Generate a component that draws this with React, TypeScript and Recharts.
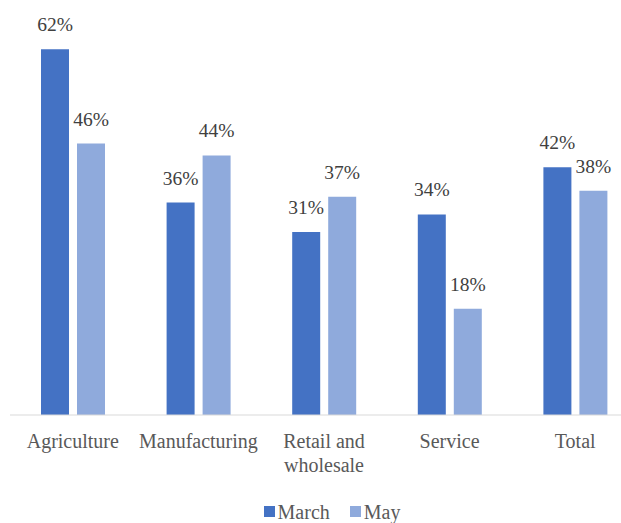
import React from 'react';
import { BarChart, Bar, XAxis, YAxis, Legend, LabelList } from 'recharts';

const categories = ['Agriculture', 'Manufacturing', 'Retail and\nwholesale', 'Service', 'Total'];
const march = [62, 36, 31, 34, 42];
const may = [46, 44, 37, 18, 38];

const MARCH_COLOR = '#4472C4';
const MAY_COLOR = '#8FAADC';
const FONT = '"Liberation Serif", "Times New Roman", serif';

const data = categories.map((name, i) => ({ name, march: march[i], may: may[i] }));

// multi-line category label
const CategoryTick = ({ x, y, payload }: any) => {
  const lines = String(payload.value).split('\n');
  return (
    <text x={x} y={y} textAnchor="middle" fill="#595959" style={{ fontFamily: FONT, fontSize: 20 }}>
      {lines.map((line, i) => (
        <tspan key={i} x={x} dy={i === 0 ? 25 : 24}>
          {line}
        </tspan>
      ))}
    </text>
  );
};

const LegendContent = () => (
  <div
    style={{
      display: 'flex',
      justifyContent: 'center',
      alignItems: 'center',
      gap: 20,
      height: 25,
      boxSizing: 'border-box',
      fontFamily: FONT,
      fontSize: 20,
      lineHeight: '22px',
      color: '#595959',
      paddingLeft: 16,
      paddingTop: 2,
    }}
  >
    {[
      { name: 'March', color: MARCH_COLOR },
      { name: 'May', color: MAY_COLOR },
    ].map(item => (
      <span key={item.name} style={{ display: 'flex', alignItems: 'center', gap: 3 }}>
        <span style={{ width: 11, height: 11, background: item.color, display: 'inline-block' }} />
        {item.name}
      </span>
    ))}
  </div>
);

const App = () => (
  <div style={{ position: 'absolute', left: 0, top: 0, width: 621, height: 523, overflow: 'hidden', background: '#fff' }}>
    <BarChart
      width={640}
      height={523}
      data={data}
      margin={{ top: 2, right: 2, left: 10, bottom: 0 }}
      barSize={28}
      barGap={8}
    >
      <XAxis
        dataKey="name"
        axisLine={{ stroke: '#d9d9d9', strokeWidth: 1 }}
        tickLine={false}
        interval={0}
        height={83}
        tick={<CategoryTick />}
      />
      <YAxis hide domain={[0, 70]} />
      <Legend verticalAlign="bottom" height={25} content={<LegendContent />} />
      <Bar dataKey="march" name="March" fill={MARCH_COLOR} isAnimationActive={false}>
        <LabelList
          dataKey="march"
          position="top"
          offset={18}
          formatter={(v: any) => `${v}%`}
          style={{ fill: '#404040', fontFamily: FONT, fontSize: 19.5 }}
        />
      </Bar>
      <Bar dataKey="may" name="May" fill={MAY_COLOR} isAnimationActive={false}>
        <LabelList
          dataKey="may"
          position="top"
          offset={18}
          formatter={(v: any) => `${v}%`}
          style={{ fill: '#404040', fontFamily: FONT, fontSize: 19.5 }}
        />
      </Bar>
    </BarChart>
  </div>
);

export default App;
